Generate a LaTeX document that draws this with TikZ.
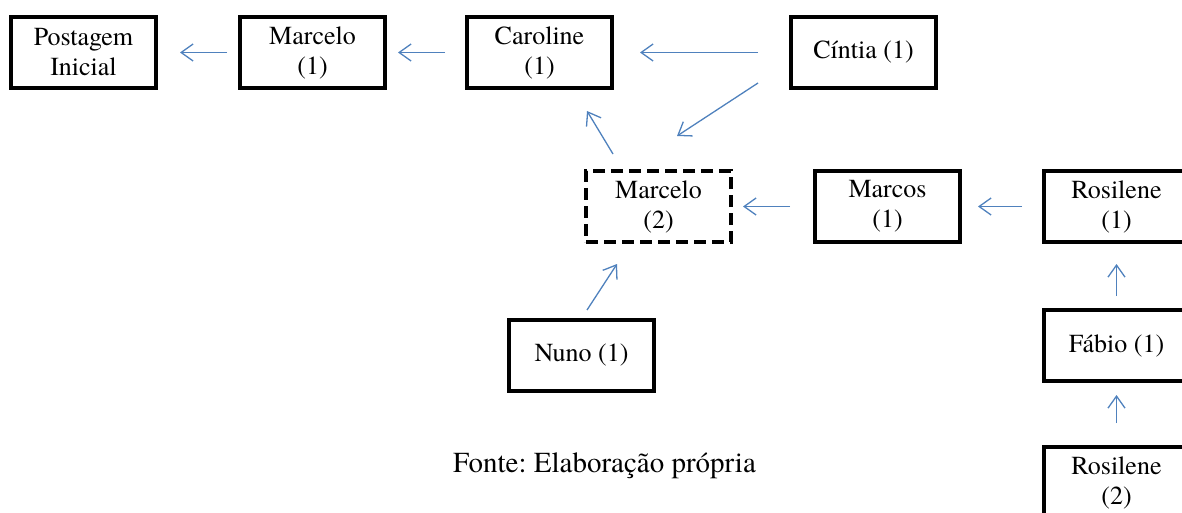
\documentclass[tikz,border=0pt]{standalone}
\usepackage{fontspec}
\setmainfont{texgyretermes-regular.otf}
\usepackage{xcolor}
\usetikzlibrary{positioning, arrows.meta}
\definecolor{setaazul}{RGB}{79,129,189}
\frenchspacing

\begin{document}
\begin{tikzpicture}[x=1pt, y=-1pt,
	caixa/.style={draw, line width=4pt, minimum width=145pt, minimum height=71pt, align=center, font=\fontsize{26}{30}\selectfont},
	tracejada/.style={caixa, dash pattern=on 12pt off 6pt},
	seta/.style={draw=setaazul, line width=1.3pt, -{Straight Barb[length=12pt, width=17pt]}}]
 \useasboundingbox (0,0) rectangle (1182,513);
 \clip (0,0) rectangle (1182,513);
 \node[caixa] (post) at (83.5,52.5) {Postagem\\Inicial};
 \node[caixa, right=80pt of post] (marc1) {Marcelo\\(1)};
 \node[caixa, right=78pt of marc1] (carol) {Caroline\\(1)};
 \node[caixa, right=175pt of carol] (cint) {Cíntia (1)};
 \node[tracejada, below=79pt of carol, xshift=119pt] (marc2) {Marcelo\\(2)};
 \node[caixa, right=80pt of marc2] (marcos) {Marcos\\(1)};
 \node[caixa, right=80pt of marcos] (ros1) {Rosilene\\(1)};
 \node[caixa, below=64pt of ros1] (fabio) {Fábio (1)};
 \node[caixa, below=62pt of fabio] (ros2) {Rosilene\\(2)};
 \node[caixa, below=74pt of marc2, xshift=-77pt] (nuno) {Nuno (1)};
 \node[font=\fontsize{29}{34}\selectfont] (fonte) at (604.5,466) {Fonte: Elaboração própria};

 \draw[seta, shorten <=11pt, shorten >=22pt] (marc1) -- (post);
 \draw[seta, shorten <=20pt, shorten >=11pt] (carol) -- (marc1);
 \draw[seta, shorten <=31pt, shorten >=26pt] (cint) -- (carol);
 \draw[seta] ([xshift=-31pt, yshift=7pt]cint.south west) -- ([xshift=18.5pt, yshift=33pt]marc2.north);
 \draw[seta] ([xshift=-45.5pt, yshift=15pt]marc2.north) -- ([xshift=47.5pt, yshift=-21pt]carol.south);
 \draw[seta, shorten <=23pt, shorten >=10pt] (marcos) -- (marc2);
 \draw[seta, shorten <=20pt, shorten >=16pt] (ros1) -- (marcos);
 \draw[seta, shorten <=12pt, shorten >=20pt] (fabio) -- (ros1);
 \draw[seta, shorten <=22pt, shorten >=12pt] (ros2) -- (fabio);
 \draw[seta] ([xshift=5.5pt, yshift=8pt]nuno.north) -- ([xshift=-41.5pt, yshift=-20pt]marc2.south);
\end{tikzpicture}
\end{document}
